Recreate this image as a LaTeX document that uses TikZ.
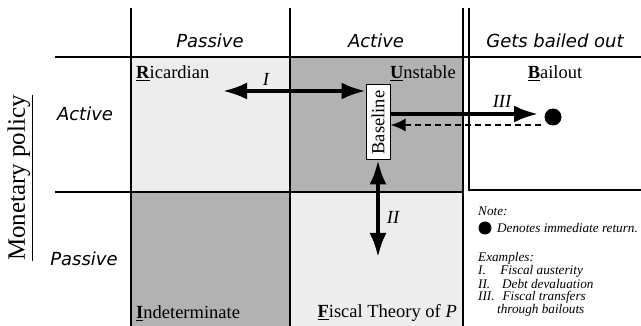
\documentclass[tikz,border=0pt]{standalone}
\usepackage{fontspec}
\setmainfont{Liberation Serif}
\newfontfamily\sansfam{DejaVu Sans}
\usetikzlibrary{arrows.meta}

\begin{document}
\begin{tikzpicture}[x=1pt,y=-1pt,>={Latex[length=24pt,width=17pt]},
  grid/.style={line width=1.8pt},
  hd/.style={font=\fontsize{18}{20}\selectfont\sansfam\itshape},
  cell/.style={font=\fontsize{18.5}{20}\selectfont,inner sep=0pt},
  note/.style={font=\fontsize{13.2}{14}\selectfont\itshape,inner sep=0pt,anchor=west}]

\useasboundingbox (0,0) rectangle (641,326);

% regions
\fill[color=black!7] (131,57) rectangle (290,192);
\fill[color=black!30] (290,57) rectangle (463,192);
\fill[color=black!30] (131,192) rectangle (290,326);
\fill[color=black!7] (290,192) rectangle (463,326);

% grid
\draw[grid] (131,8)--(131,326);
\draw[grid] (290,8)--(290,326);
\draw[grid] (463,8)--(463,326);
\draw[grid] (469,8)--(469,190)--(641,190);
\draw[grid] (55,57)--(641,57);
\draw[grid] (55,192)--(463,192);

% headers
\node[hd] (fpas) at (210,41) {Passive};
\node[hd] (fact) at (376,41) {Active};
\node[hd] (fbail) at (555,41) {Gets bailed out};
\node[hd] (mact) at (85,114) {Active};
\node[hd] (mpas) at (84,259) {Passive};
\node[font=\fontsize{25}{27}\selectfont,rotate=90] (mon) at (20,178) {\underline{Monetary policy}};

% regimes
\node[cell,anchor=west] (ric) at (136,73) {\underline{\textbf{R}}icardian};
\node[cell,anchor=east] (uns) at (456,73) {\underline{\textbf{U}}nstable};
\node[cell] (bail) at (555,73) {\underline{\textbf{B}}ailout};
\node[cell,anchor=west] (ind) at (136,313) {\underline{\textbf{I}}ndeterminate};
\node[cell,anchor=east] (ftp) at (457,313) {\underline{\textbf{F}}iscal Theory of \textit{P}};

\node[cell,draw,line width=1pt,fill=white,rotate=90,minimum width=75pt,minimum height=24pt]
  (base) at (378,122.5) {Baseline};
\node[circle,fill,minimum size=17pt,inner sep=0pt] (ret) at (553,117) {};

% moves
\coordinate (tI) at (223,91);
\coordinate (tII) at (378,257);
\coordinate (tIII) at (538,114);
\coordinate (dIII) at (541,125);

\draw[<->,line width=3.5pt] (tI)--(tI -| base.north);
\draw[<->,line width=3.5pt] (base.west)--(tII);
\draw[->,line width=3.5pt] (tIII -| base.south)--(tIII);
\draw[->,line width=2pt,dash pattern=on 6pt off 4pt,>={Latex[length=15pt,width=13pt]}]
  (dIII)--(dIII -| base.south);

\node[cell,font=\fontsize{18.5}{20}\selectfont\itshape] (lI) at (266,79) {I};
\node[cell,font=\fontsize{18.5}{20}\selectfont\itshape] (lII) at (393,217) {II};
\node[cell,font=\fontsize{18.5}{20}\selectfont\itshape] (lIII) at (502,101) {III};

% note
\node[note] (nt) at (478,211) {Note:};
\node[circle,fill,minimum size=13pt,inner sep=0pt] (ndot) at (485,228) {};
\node[note] (ndesc) at (497,228) {Denotes immediate return.};
\node[note] (ex) at (478,258) {Examples:};
\node[note] (ex1) at (478,271) {I.\hspace{1.1em}Fiscal austerity};
\node[note] (ex2) at (478,284) {II.\hspace{0.9em}Debt devaluation};
\node[note] (ex3) at (478,297) {III.\hspace{0.6em}Fiscal transfers};
\node[note] (ex4) at (497,310) {through bailouts};

\end{tikzpicture}
\end{document}
